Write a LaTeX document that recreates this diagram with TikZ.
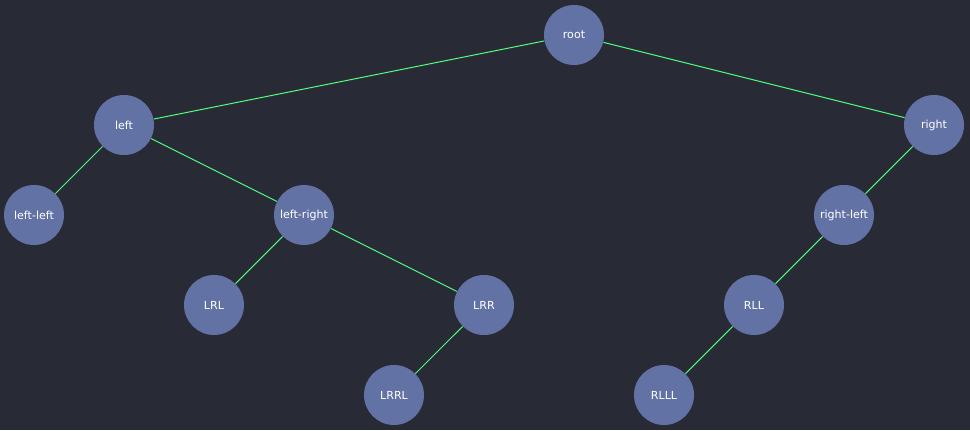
\documentclass[tikz,border=0pt]{standalone}
\usepackage{fontspec}
\setmainfont{DejaVu Sans}
\usepackage{tikz}
\usetikzlibrary{positioning, backgrounds}
\definecolor{bgdark}{HTML}{282A36}
\definecolor{nodeblue}{HTML}{6272A4}
\definecolor{edgegreen}{HTML}{50FA7B}
\tikzset{
  treenode/.style={circle, fill=nodeblue, minimum size=1.2cm, inner sep=0pt,
                   text=white, font=\fontsize{6.3}{8}\selectfont},
  edge/.style={edgegreen, line width=0.6pt},
}

\begin{document}
\begin{tikzpicture}
  % background and frame
  \fill[bgdark] (0,0) rectangle (19.4,-8.6);
  \useasboundingbox (0,0) rectangle (19.4,-8.6);
  % level 0 and 1
  \node[treenode] (root) at (11.48,-0.70) {root};
  \node[treenode] (left) at (2.48,-2.5) {left};
  \node[treenode] (right) at (18.68,-2.5) {right};
  % level 2
  \node[treenode] (ll) at (0.68,-4.3) {left-left};
  \node[treenode] (lr) at (6.08,-4.3) {left-right};
  \node[treenode] (rl) at (16.88,-4.3) {right-left};
  % level 3
  \node[treenode] (lrl) at (4.28,-6.1) {LRL};
  \node[treenode] (lrr) at (9.68,-6.1) {LRR};
  \node[treenode] (rll) at (15.08,-6.1) {RLL};
  % level 4
  \node[treenode] (lrrl) at (7.88,-7.9) {LRRL};
  \node[treenode] (rlll) at (13.28,-7.9) {RLLL};
  % edges
  \draw[edge] (root) -- (left);
  \draw[edge] (root) -- (right);
  \draw[edge] (left) -- (ll);
  \draw[edge] (left) -- (lr);
  \draw[edge] (right) -- (rl);
  \draw[edge] (lr) -- (lrl);
  \draw[edge] (lr) -- (lrr);
  \draw[edge] (rl) -- (rll);
  \draw[edge] (lrr) -- (lrrl);
  \draw[edge] (rll) -- (rlll);
\end{tikzpicture}
\end{document}
